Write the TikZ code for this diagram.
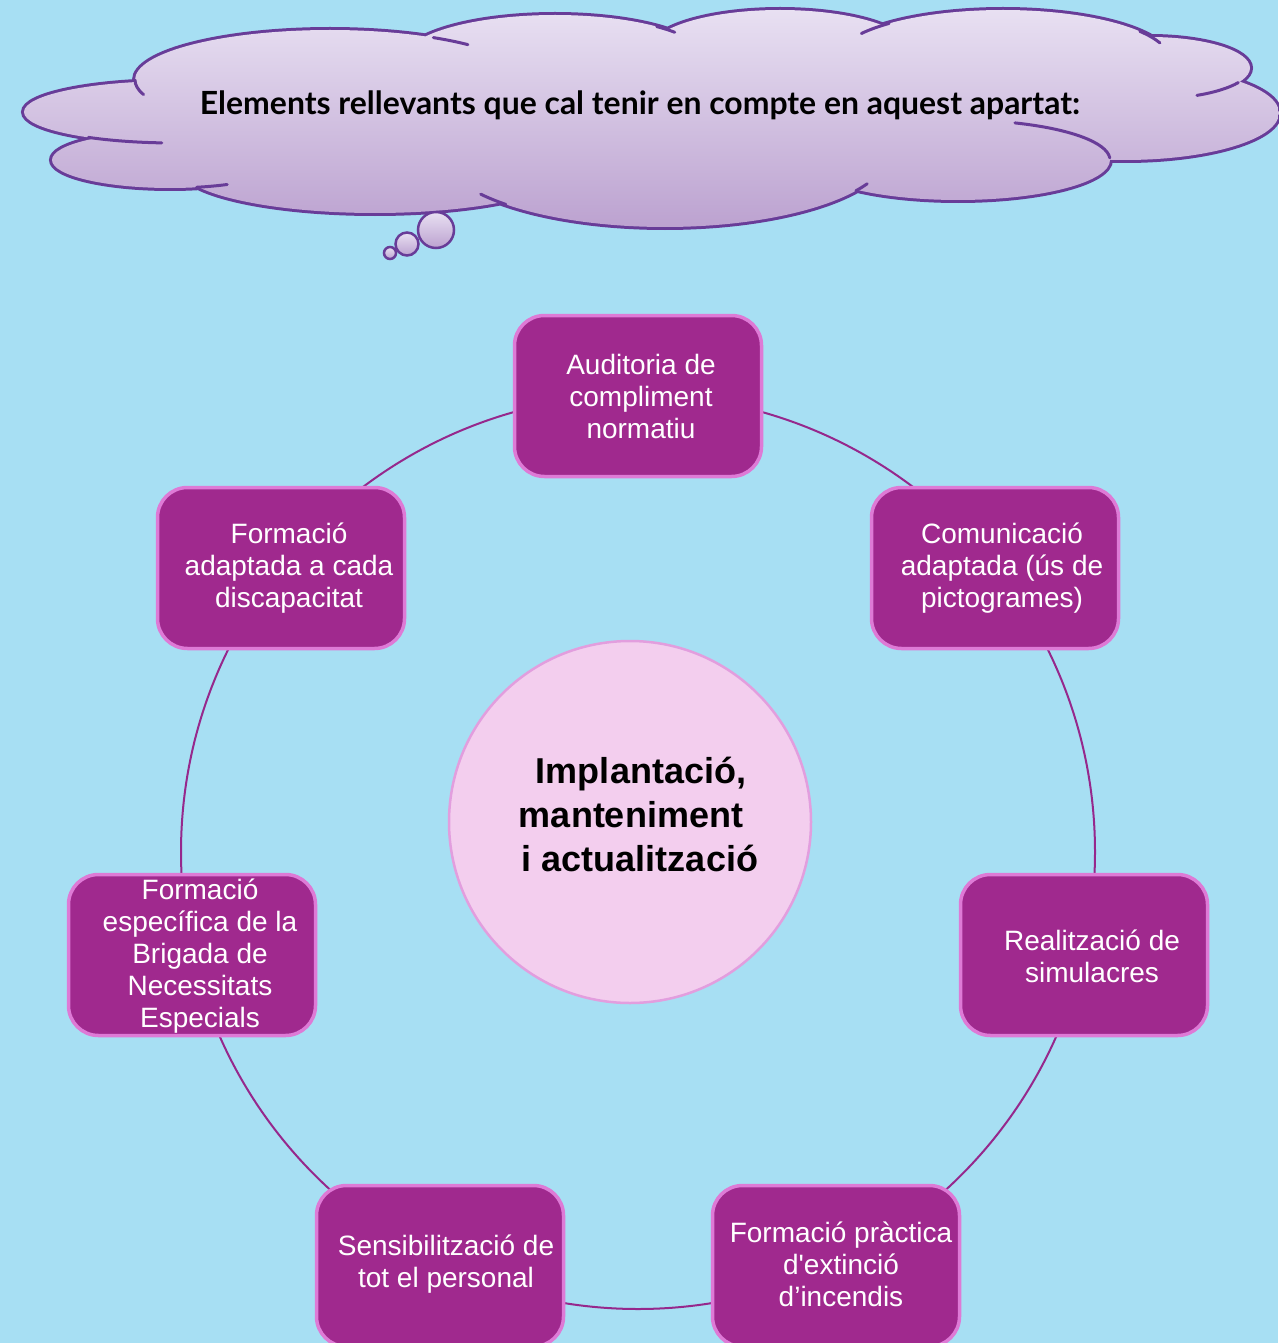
\documentclass[tikz,border=0pt]{standalone}
\usepackage{fontspec}
\setmainfont{Liberation Sans}
\newfontfamily\titlefont{Lato}
\definecolor{bg}{RGB}{167,223,243}
\definecolor{cloudline}{RGB}{104,60,152}
\definecolor{cloudtop}{RGB}{232,224,242}
\definecolor{cloudbot}{RGB}{188,162,208}
\definecolor{boxfill}{RGB}{160,41,142}
\definecolor{boxline}{RGB}{222,122,214}
\definecolor{ringcol}{RGB}{150,40,140}
\definecolor{hubfill}{RGB}{243,206,238}
\definecolor{hubline}{RGB}{226,158,222}
\newcommand\cloudhook[6]{\draw[cloudstroke,shift={(#1,#2)}] (#5:#3 and #4) arc[start angle=#5,end angle=#6,x radius=#3,y radius=#4];}
\begin{document}
\begin{tikzpicture}[x=1pt,y=-1pt,
  cloudstroke/.style={draw=cloudline,line width=3pt,line cap=round},
  pbox/.style={draw=boxline,fill=boxfill,line width=3.5pt,rounded corners=30pt,minimum width=247pt,minimum height=161pt,inner sep=0pt},
  ptext/.style={text=white,align=center,font=\fontsize{28}{32}\selectfont,inner sep=0pt},
  ring/.style={draw=ringcol,line width=2pt},
  hubstyle/.style={circle,draw=hubline,fill=hubfill,line width=2.5pt,minimum size=362pt,inner sep=0pt},
  hubtext/.style={align=center,font=\fontsize{36}{44}\selectfont\bfseries,inner sep=0pt},
  bubble/.style={draw=cloudline,line width=2.5pt,top color=cloudtop,bottom color=cloudbot}]
\fill[bg] (0,0) rectangle (1278,1343);
\useasboundingbox (0,0) rectangle (1278,1343);

% ---- cloud ----
\def\cloudpath{
  (175,112) ellipse[x radius=151,y radius=31]
  (170,160) ellipse[x radius=118,y radius=28]
  (330,80) ellipse[x radius=195,y radius=50]
  (555,60) ellipse[x radius=152,y radius=45]
  (780,50) ellipse[x radius=130,y radius=40]
  (1003,60) ellipse[x radius=167,y radius=50]
  (1150,68) ellipse[x radius=100,y radius=31]
  (1125,113) ellipse[x radius=154,y radius=47]
  (958,160) ellipse[x radius=152,y radius=40]
  (665,150) ellipse[x radius=225,y radius=77]
  (375,168) ellipse[x radius=195,y radius=45]
  (640,110) ellipse[x radius=480,y radius=70]}
\draw[draw=cloudline,line width=6pt] \cloudpath;
\shade[top color=cloudtop,bottom color=cloudbot] \cloudpath;
\cloudhook{330}{80}{195}{50}{180}{163}
\cloudhook{330}{80}{195}{50}{-58}{-45}
\cloudhook{175}{112}{151}{31}{125}{95}
\cloudhook{170}{160}{118}{28}{77}{61}
\cloudhook{665}{150}{225}{77}{135}{145}
\cloudhook{665}{150}{225}{77}{32}{26}
\cloudhook{958}{160}{152}{40}{-3}{-68}
\cloudhook{1150}{68}{100}{31}{28}{62}
\cloudhook{1003}{60}{167}{50}{-35}{-20}
\cloudhook{1003}{60}{167}{50}{227}{212}
\cloudhook{555}{60}{152}{45}{-48}{-38}
\path[bubble] (436,230) circle[radius=18];
\path[bubble] (407,244) circle[radius=11.5];
\path[bubble] (390,253) circle[radius=6];
\node[anchor=base,inner sep=0pt] (title) at (640,115)
  {\resizebox{880pt}{!}{\titlefont\bfseries Elements rellevants que cal tenir en compte en aquest apartat:}};

% ---- ring and boxes ----
\coordinate (c0) at (638,852);
\draw[ring] (c0) circle[radius=457];

\node[hubstyle] (hub) at (630,822) {};
\node[hubtext] (hubt) at (638,814) {\kern6pt Implantació,\\manteniment\kern14pt\null\\\kern4pt i actualització};

\node[pbox] (b1) at (638,396) {};
\node[pbox] (b2) at (995,568) {};
\node[pbox] (b3) at (1084,955) {};
\node[pbox] (b4) at (836,1266) {};
\node[pbox] (b5) at (440,1266) {};
\node[pbox] (b6) at (192,955) {};
\node[pbox] (b7) at (281,568) {};

\node[ptext] (t1) at ([xshift=3pt]b1.center) {Auditoria de\\compliment\\normatiu};
\node[ptext] (t2) at ([xshift=7pt]b2.center) {Comunicació\\adaptada (ús de\\pictogrames)};
\node[ptext] (t3) at ([xshift=8pt,yshift=-1pt]b3.center) {Realització de\\simulacres};
\node[ptext] (t4) at ([xshift=5pt,yshift=2pt]b4.center) {Formació pràctica\\d\textquotesingle extinció\\d’incendis};
\node[ptext] (t5) at ([xshift=6pt,yshift=2pt]b5.center) {Sensibilització de\\tot el personal};
\node[ptext] (t6) at ([xshift=8pt,yshift=-1pt]b6.center) {Formació\\específica de la\\Brigada de\\Necessitats\\Especials};
\node[ptext] (t7) at ([xshift=8pt]b7.center) {Formació\\adaptada a cada\\discapacitat};
\end{tikzpicture}
\end{document}
